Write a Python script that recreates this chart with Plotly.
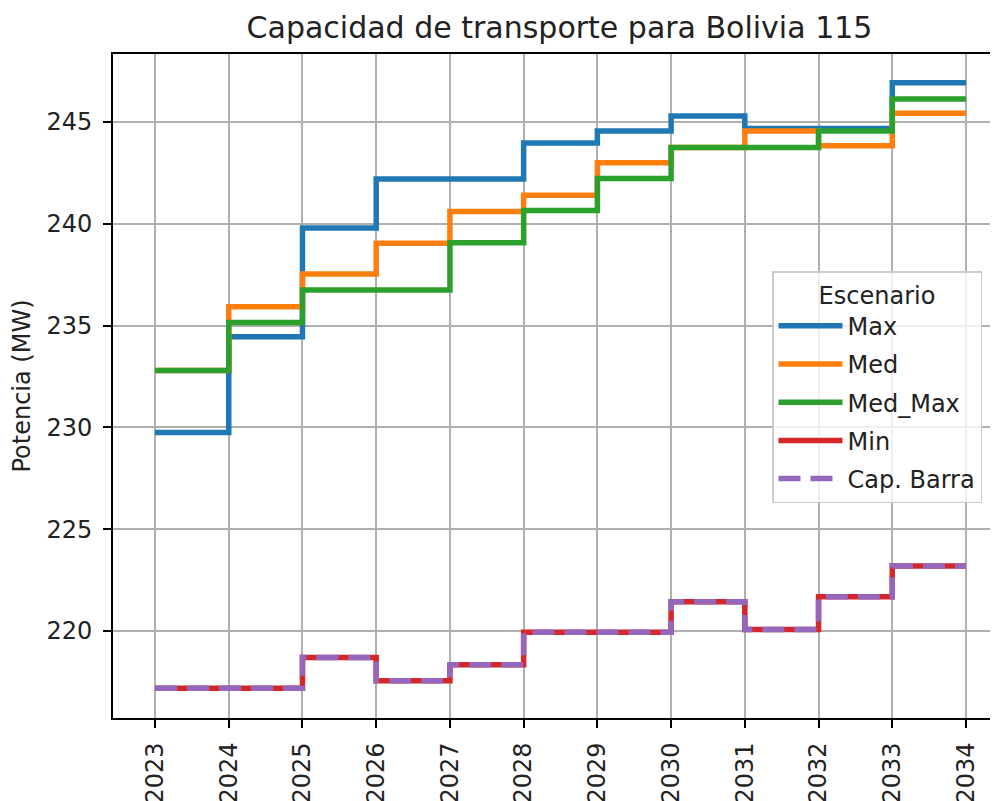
import plotly.graph_objects as go

years = list(range(2023, 2035))
max_vals = [229.75, 234.45, 239.8, 242.2, 242.2, 243.97, 244.56, 245.3, 244.68, 244.68, 246.93, 246.93]
med_vals = [232.8, 235.93, 237.53, 239.04, 240.61, 241.4, 243.0, 243.75, 244.56, 243.84, 245.43, 245.43]
med_max_vals = [232.8, 235.15, 236.75, 236.75, 239.07, 240.65, 242.22, 243.75, 243.75, 244.56, 246.13, 246.13]
min_vals = [217.19, 217.19, 218.7, 217.56, 218.34, 219.94, 219.94, 221.44, 220.08, 221.68, 223.19, 223.19]
cap_barra_vals = min_vals[:]

series = [
    ("Max", max_vals, "#1f77b4", "solid"),
    ("Med", med_vals, "#ff7f0e", "solid"),
    ("Med_Max", med_max_vals, "#2ca02c", "solid"),
    ("Min", min_vals, "#d62728", "solid"),
    ("Cap. Barra", cap_barra_vals, "#9467bd", "22px,10px"),
]

font = "DejaVu Sans"
# The page body has an 8px margin, so the figure is offset by 8px.
W, H = 990, 793
L, T, B = 105, 46, 83
fig = go.Figure()
for name, vals, color, dash in series:
    fig.add_trace(go.Scatter(
        x=years, y=vals, name=name, mode="lines", legendgroup=name,
        line=dict(color=color, width=5.5, shape="hv", dash=dash),
    ))

plot_w = W - L
plot_h = H - T - B
fig.update_layout(
    width=W, height=H,
    margin=dict(l=L, r=0, t=T, b=B, autoexpand=False),
    plot_bgcolor="white", paper_bgcolor="white",
    font=dict(family=font, size=24, color="#222222"),
    title=dict(text="Capacidad de transporte para Bolivia 115", x=551.5/W, xanchor="center",
               y=1 - 19/H, yanchor="middle", font=dict(size=30, family=font, color="#222222")),
    legend=dict(
        x=(764-105)/plot_w, y=(710-263)/plot_h, xanchor="left", yanchor="top",
        bgcolor="rgba(255,255,255,0.8)", bordercolor="#cccccc", borderwidth=1.5,
        font=dict(size=24, family=font, color="#222222"),
        title=dict(text="Escenario", side="top center", font=dict(size=24, family=font)),
        tracegroupgap=4, itemwidth=64,
    ),
    showlegend=True,
)
fig.update_xaxes(
    range=[2022.43, 2034.434], tickmode="array", tickvals=years, ticktext=[str(y) for y in years],
    tickangle=-90, showgrid=True, gridcolor="#b0b0b0", gridwidth=1.6,
    showline=True, linecolor="black", linewidth=1.8, mirror=True,
    ticks="outside", ticklen=8, tickcolor="black", tickwidth=1.8, zeroline=False,
    ticklabelstandoff=5,
)
fig.update_yaxes(
    range=[215.73, 248.34], tickvals=[220, 225, 230, 235, 240, 245],
    showgrid=True, gridcolor="#b0b0b0", gridwidth=1.6,
    showline=True, linecolor="black", linewidth=1.8,
    ticks="outside", ticklen=8, tickcolor="black", tickwidth=1.8, zeroline=False,
    ticklabelstandoff=6,
    title=dict(text="Potencia (MW)", standoff=16, font=dict(size=24, family=font)),
)

fig.write_html("out.html")
